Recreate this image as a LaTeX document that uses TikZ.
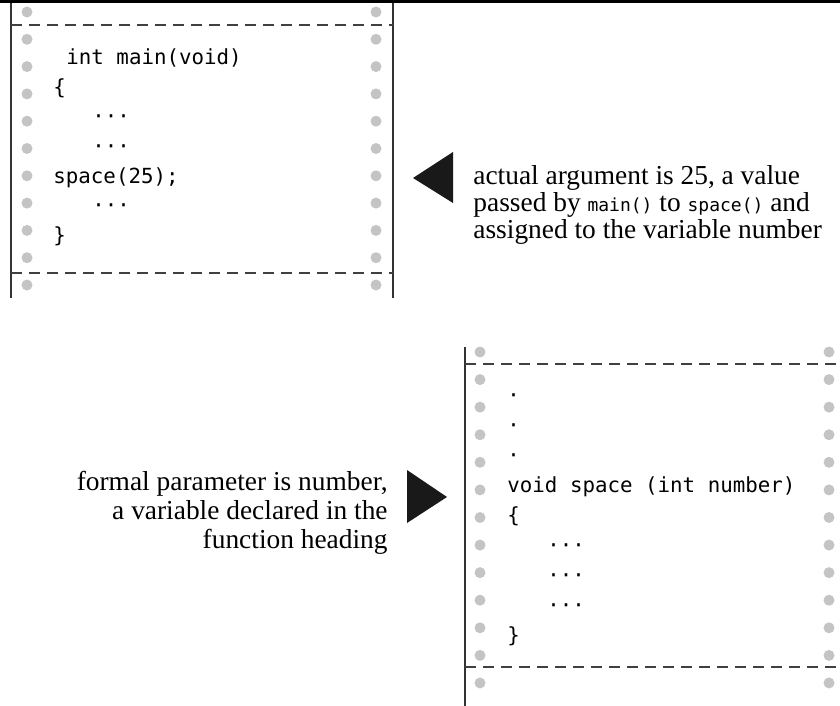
\documentclass[tikz,border=0pt]{standalone}
\usepackage{fontspec}
\setmainfont{Liberation Serif}
\setmonofont{DejaVu Sans Mono}
\usetikzlibrary{arrows.meta,positioning}
\newcommand\cdfont{\ttfamily\fontsize{9}{9}\selectfont}

\begin{document}
\begin{tikzpicture}[x=0.5pt,y=-0.5pt,
    hole/.style={circle,fill=black!23,inner sep=0pt,minimum size=5.5pt},
    rail/.style={line width=0.6pt,black!80},
    tear/.style={line width=0.6pt,black!75,dash pattern=on 5.3pt off 3.7pt},
    code/.style={anchor=base west,inner sep=0pt,font=\ttfamily\fontsize{10.4}{12}\selectfont},
    note/.style={inner sep=0pt,font=\fontsize{13.7}{13.3}\selectfont},
    pointer/.style={fill=black!90}]
\useasboundingbox (0,0) rectangle (840,706);
\draw[line width=1.3pt] (0,1.4) -- (840,1.4);
% listing of main()
\draw[rail] (11,3) -- (11,298) (393,3) -- (393,298);
\draw[tear] (11,25) -- (393,25) (11,273) -- (393,273);
\foreach \k in {0,...,10} {
  \node[hole] at (27,12+27.3*\k) {};
  \node[hole] at (376,12+27.3*\k) {};
}
\foreach \x/\y/\t [count=\i] in {66/65/int main(void), 53/95/\{,
    92/124/···, 92/153.5/···, 53/183/space(25);, 92/212.5/···, 53/242/\}}
  \node[code] (main\i) at (\x,\y) {\t};
% listing of space()
\draw[rail] (465,347) -- (465,706);
\draw[tear] (465,364) -- (840,364) (465,667) -- (840,667);
\foreach \k in {0,...,12} {
  \node[hole] at (480,352+27.58*\k) {};
  \node[hole] at (829,352+27.58*\k) {};
}
\foreach \x/\y/\t [count=\i] in {507/402/·, 507/432/·, 507/462/·,
    507/492/void space (int number), 507/522/\{,
    547/552/···, 547/582/···, 547/612/···, 507/642/\}}
  \node[code] (space\i) at (\x,\y) {\t};
% pointers and notes
\fill[pointer] (413,178) -- (453,152) -- (453,203) -- cycle;
\node[note,anchor=west,align=left] (actual) at (473,205)
  {actual argument is 25, a value\\passed by {\cdfont main()} to {\cdfont space()} and\\assigned to the variable number};
\fill[pointer] (447,497) -- (407,470) -- (407,523) -- cycle;
\node[note,anchor=east,align=right,font=\fontsize{13.7}{14.5}\selectfont] (formal) at (388,513)
  {formal parameter is number,\\a variable declared in the\\function heading};
\end{tikzpicture}
\end{document}
